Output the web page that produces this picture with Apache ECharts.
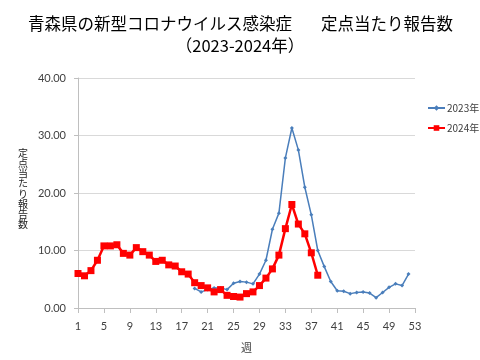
<!DOCTYPE html>
<html><head><meta charset="utf-8">
<script src="https://cdn.jsdelivr.net/npm/echarts@6/dist/echarts.min.js"></script>
<style>html,body{margin:0;padding:0;background:#fff}#c{width:480px;height:360px}</style>
</head><body><div id="c"></div>
<script>
const weeks = ['1','2','3','4','5','6','7','8','9','10','11','12','13','14','15','16','17','18','19','20','21','22','23','24','25','26','27','28','29','30','31','32','33','34','35','36','37','38','39','40','41','42','43','44','45','46','47','48','49','50','51','52','53'];
const start2023 = 19;
const values2023 = [3.4,2.8,3.2,3.5,3.5,3.2,4.3,4.6,4.5,4.2,5.9,8.3,13.7,16.5,26.1,31.3,27.5,21.0,16.2,10.0,7.2,4.6,3.0,2.9,2.5,2.7,2.8,2.6,1.8,2.7,3.6,4.2,3.9,5.9];
const start2024 = 1;
const values2024 = [6.0,5.6,6.5,8.3,10.8,10.8,11.0,9.5,9.2,10.5,9.8,9.2,8.1,8.3,7.5,7.3,6.3,5.9,4.4,3.9,3.5,2.8,3.2,2.2,2.0,1.9,2.5,2.8,3.9,5.2,6.8,9.2,13.8,18.0,14.6,12.9,9.6,5.7];
const yTicks = [0,10,20,30,40];
const seriesNames = ['2023年','2024年'];
const yName = ['定','点','当','た','り','報','告','数'];

const toData = (start, vals) => vals.map((v,i) => [start - 1 + i, v]);
const jp = '"Noto Sans CJK JP", sans-serif';
const num = 'Lato, "Noto Sans", sans-serif';

const yNameChars = yName.map((ch, i) => ({
  type: 'text', x: 23, y: 148 + i * 10.2,
  style: {text: ch, fontFamily: jp, fontSize: 10, fill: '#222', align: 'center', verticalAlign: 'top'}
}));

const chart = echarts.init(document.getElementById('c'));
chart.setOption({
  animation: false,
  backgroundColor: '#fff',
  grid: {left: 78, right: 65, top: 78, bottom: 52},
  graphic: [
    {type:'text', left: 28, top: 15, style:{text:'青森県の新型コロナウイルス感染症', fontFamily: jp, fontSize: 16.5, fill:'#000'}},
    {type:'text', left: 321, top: 15, style:{text:'定点当たり報告数', fontFamily: jp, fontSize: 16.5, fill:'#000'}},
    {type:'text', left: 'center', top: 37, style:{text:'（2023-2024年）', fontFamily: jp, fontSize: 16.5, fill:'#000'}},
    {type:'group', children: yNameChars}
  ],
  legend: {
    orient: 'vertical', left: 422, top: 98, itemGap: 10, itemWidth: 17, itemHeight: 7,
    textStyle: {fontFamily: jp, fontSize: 10, color: '#404040', padding: [0,0,0,-3]},
    data: seriesNames
  },
  xAxis: {
    type: 'category', data: weeks, boundaryGap: false,
    name: '週', nameLocation: 'middle', nameGap: 34,
    nameTextStyle: {fontFamily: jp, fontSize: 11, color: '#404040'},
    axisLine: {lineStyle: {color: '#bfbfbf'}},
    axisTick: {interval: 3, length: 5, lineStyle: {color: '#bfbfbf'}},
    axisLabel: {interval: 3, fontFamily: num, fontSize: 11, color: '#404040', margin: 13}
  },
  yAxis: {
    type: 'value', min: yTicks[0], max: yTicks[yTicks.length-1], interval: 10,
    axisLine: {show: true, lineStyle: {color: '#bfbfbf'}},
    axisTick: {show: true, length: 4, lineStyle: {color: '#bfbfbf'}},
    axisLabel: {fontFamily: num, fontSize: 11, color: '#404040', margin: 12, formatter: v => v.toFixed(2)},
    splitLine: {lineStyle: {color: '#d9d9d9'}}
  },
  series: [
    {name: seriesNames[0], type: 'line', data: toData(start2023, values2023),
     showAllSymbol: true, color: '#4a7ebb', symbol: 'diamond', symbolSize: 4,
     lineStyle: {width: 1.5, color: '#4a7ebb'}, itemStyle: {color: '#4a7ebb'}},
    {name: seriesNames[1], type: 'line', data: toData(start2024, values2024),
     showAllSymbol: true, color: '#ff0000', symbol: 'rect', symbolSize: 7,
     lineStyle: {width: 2.5, color: '#ff0000'}, itemStyle: {color: '#ff0000'}, z: 3}
  ]
});
</script></body></html>
